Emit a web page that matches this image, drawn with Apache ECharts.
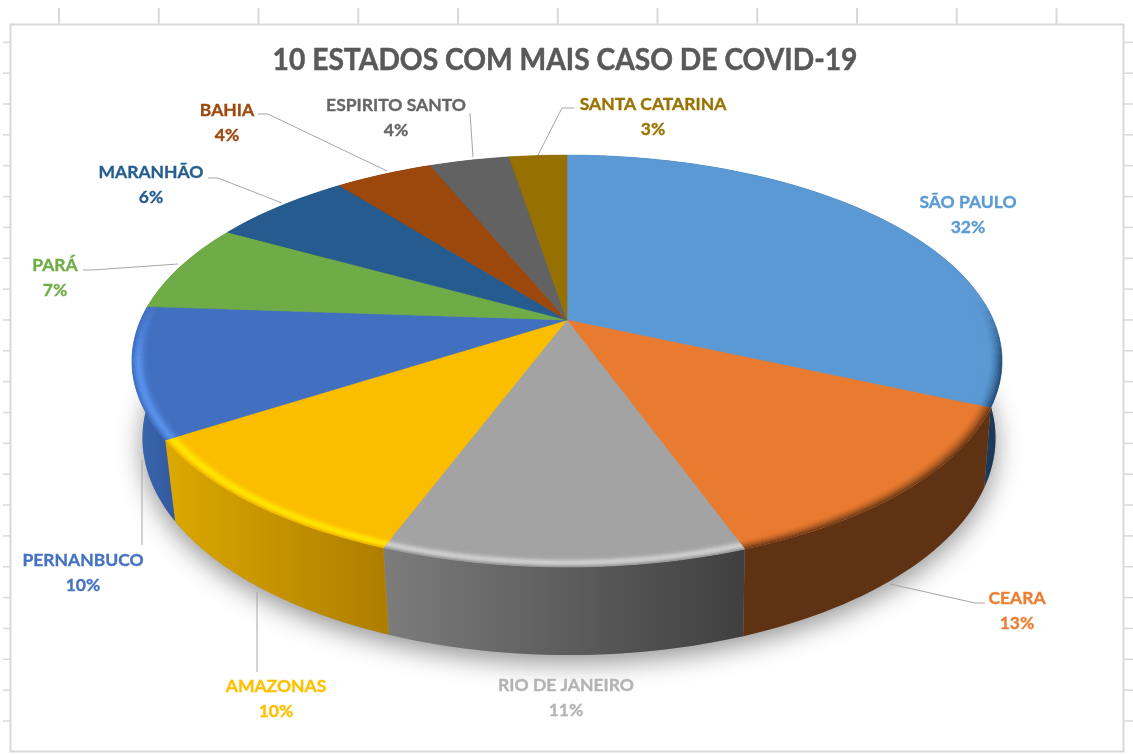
<!DOCTYPE html>
<html>
<head>
<meta charset="utf-8">
<title>10 estados</title>
<script src="https://cdn.jsdelivr.net/npm/echarts@6/dist/echarts.min.js"></script>
<style>
  html, body { margin: 0; padding: 0; background: #fff; }
  #main { width: 1133px; height: 754px; }
</style>
</head>
<body>
<div id="main"></div>
<script>
const titleText = "10 ESTADOS COM MAIS CASO DE COVID-19";
const states = ["SÃO PAULO", "CEARA", "RIO DE JANEIRO", "AMAZONAS", "PERNANBUCO", "PARÁ", "MARANHÃO", "BAHIA", "ESPIRITO SANTO", "SANTA CATARINA"];
const shares = [31.7, 12.8, 11.2, 10.2, 10.2, 7, 6.3, 4.4, 3.6, 2.6];

const topColors = ["#5b99d4", "#e97b30", "#a3a3a3", "#fbbd00", "#4270c0", "#6fab46", "#255b8e", "#9c470c", "#626262", "#967000"];
const textColors = ["#5b9bd5", "#ed7d31", "#b3b3b3", "#ffc000", "#4472c4", "#70ad47", "#255e91", "#9e480e", "#666666", "#997300"];
const wallLeft = ["#25496c", "#5f3213", "#7c7c7c", "#dca800", "#3a68b4", "#4a7530", "#1a4266", "#6e3209", "#454545", "#6a5000"];
const wallRight = ["#1c3a57", "#5f3213", "#3f3f3f", "#ad7d00", "#33599c", "#4a7530", "#1a4266", "#6e3209", "#454545", "#6a5000"];
const rimColors = ["#1f4468", "#5f3213", "#d0d0d0", "#ffe800", "#5a94ee", null, null, null, null, null];
const rimIsDark = [true, true, false, false, false, false, false, false, false, false];

// label centres and leader lines, same order as states
const labelPos = [[968, 215], [1017, 611], [566, 698], [276, 699], [83, 573], [55, 278], [151, 185], [227, 123], [396, 118], [653, 117]];
const leaders = [
  null,
  [[890, 584], [975, 603], [985, 603]],
  null,
  [[257, 592], [257, 672]],
  [[142, 460], [142, 545]],
  [[83, 270], [92, 270], [178, 264]],
  [[208, 178], [218, 178], [282, 203]],
  [[258, 114], [268, 114], [387, 171]],
  [[470, 113], [473, 157]],
  [[574, 108], [562, 108], [538, 155]]
];

// pie projection: perspective of the top and bottom discs
const persp = 0.199;
const topDisc = { x: 567, y: 320, a: 197.8, b: 426.3 };
const baseDisc = { x: 569, y: 395, a: 208.3, b: 418 };

const total = shares.reduce((s, v) => s + v, 0);
const startAngles = [];
shares.reduce((s, v, i) => { startAngles[i] = s / total * 360; return s + v; }, 0);

function proj(disc, deg, r) {
  const t = deg * Math.PI / 180;
  const u = r * Math.sin(t), v = -r * Math.cos(t);
  const d = 1 - persp * v;
  return [disc.x + disc.b * u / d, disc.y + disc.a * v / d];
}

function arc(disc, from, to, r) {
  const pts = [];
  const n = Math.max(2, Math.ceil((to - from) / 1.5));
  for (let i = 0; i <= n; i++) pts.push(proj(disc, from + (to - from) * i / n, r));
  return pts;
}

function sliceRange(i, value) {
  return [startAngles[i], startAngles[i] + value / total * 360];
}

function renderShadow() {
  return {
    type: "polygon",
    shape: { points: arc(baseDisc, 0, 360, 1) },
    style: { fill: "#999", shadowBlur: 26, shadowColor: "rgba(0,0,0,0.42)", shadowOffsetY: 8 }
  };
}

function renderWall(params, api) {
  const i = params.dataIndex;
  const [from, to] = sliceRange(i, api.value(0));
  const pts = arc(topDisc, from, to, 1).concat(arc(baseDisc, from, to, 1).reverse());
  return {
    type: "polygon",
    shape: { points: pts },
    style: {
      fill: new echarts.graphic.LinearGradient(0, 0, 1, 0, [
        { offset: 0, color: wallLeft[i] },
        { offset: 1, color: wallRight[i] }
      ])
    }
  };
}

// soft bevel along the front rim, made of thin rings
const ringWidth = 0.003;
const ringCount = 14;

function rimStrength(r, dark) {
  if (dark) return Math.pow(Math.max(0, 1 - (1 - r) / 0.03), 1.6);
  const d = (r - 0.985) / 0.011;
  return Math.exp(-d * d);
}

function renderTop(params, api) {
  const i = params.dataIndex;
  const [from, to] = sliceRange(i, api.value(0));
  const children = [{
    type: "polygon",
    shape: { points: [proj(topDisc, from, 0)].concat(arc(topDisc, from, to, 1)) },
    style: { fill: topColors[i], stroke: topColors[i], lineWidth: 0.5 }
  }];
  if (rimColors[i]) {
    const step = 2.5;
    for (let a = from; a < to - 0.01; a += step) {
      const b = Math.min(a + step, to);
      const mid = (a + b) / 2 * Math.PI / 180;
      const fade = Math.min(1, Math.max(0, (-Math.cos(mid) + 0.1) / 0.3));
      if (fade <= 0) continue;
      for (let k = 0; k < ringCount; k++) {
        const r2 = 1 - k * ringWidth;
        const r1 = r2 - ringWidth;
        const t = rimStrength((r1 + r2) / 2, rimIsDark[i]) * fade;
        let col = echarts.color.lerp(t, [topColors[i], rimColors[i]]);
        // light rims fall off into the wall at the very edge
        if (!rimIsDark[i] && k < 2) col = echarts.color.lerp(0.35 - k * 0.15, [col, wallLeft[i]]);
        children.push({
          type: "polygon",
          shape: { points: [proj(topDisc, a, r2), proj(topDisc, b, r2), proj(topDisc, b, r1), proj(topDisc, a, r1)] },
          style: { fill: col, stroke: col, lineWidth: 0.4 }
        });
      }
    }
  }
  return { type: "group", children: children };
}

function renderLabel(params, api) {
  const i = params.dataIndex;
  const children = [];
  if (leaders[i]) {
    children.push({
      type: "polyline",
      shape: { points: leaders[i] },
      style: { fill: null, stroke: "#a6a6a6", lineWidth: 1 }
    });
  }
  children.push({
    type: "text",
    x: labelPos[i][0],
    y: labelPos[i][1],
    style: {
      text: states[i] + "\n" + Math.round(api.value(0) / total * 100) + "%",
      fill: textColors[i],
      stroke: textColors[i],
      lineWidth: 0.35,
      font: 'bold 17.5px Lato, "Open Sans", sans-serif',
      lineHeight: 24.5,
      align: "center",
      verticalAlign: "middle"
    }
  });
  return { type: "group", children: children };
}

const frameGraphics = [{
  type: "rect",
  shape: { x: 10.5, y: 24.5, width: 1113, height: 727 },
  style: { fill: "#fff", stroke: "#d9d9d9", lineWidth: 2 },
  z: -1
}, {
  type: "text",
  x: 565,
  y: 60,
  scaleX: 0.925,
  style: {
    text: titleText,
    fill: "#595959",
    stroke: "#595959",
    lineWidth: 0.5,
    font: 'bold 30.5px Lato, "Open Sans", sans-serif',
    align: "center",
    verticalAlign: "middle"
  },
  z: 5
}];
for (let x = 59; x < 1100; x += 99.75) {
  frameGraphics.push({ type: "line", shape: { x1: x, y1: 8, x2: x, y2: 24 }, style: { stroke: "#d9d9d9", lineWidth: 2 }, z: -2 });
}
for (let y = 42.3; y < 750; y += 30.85) {
  frameGraphics.push({ type: "line", shape: { x1: 3, y1: y, x2: 10, y2: y }, style: { stroke: "#d9d9d9", lineWidth: 1.5 }, z: -2 });
  frameGraphics.push({ type: "line", shape: { x1: 1124, y1: y, x2: 1133, y2: y }, style: { stroke: "#d9d9d9", lineWidth: 1.5 }, z: -2 });
}

const seriesData = shares.map(v => [v]);
const chart = echarts.init(document.getElementById("main"));
chart.setOption({
  animation: false,
  backgroundColor: "#fff",
  graphic: frameGraphics,
  series: [
    { type: "custom", coordinateSystem: "none", silent: true, z: 1, data: [[1]], renderItem: renderShadow },
    { type: "custom", coordinateSystem: "none", silent: true, z: 2, data: seriesData, renderItem: renderWall },
    { type: "custom", coordinateSystem: "none", silent: true, z: 3, data: seriesData, renderItem: renderTop },
    { type: "custom", coordinateSystem: "none", silent: true, z: 4, data: seriesData, renderItem: renderLabel }
  ]
});
</script>
</body>
</html>
